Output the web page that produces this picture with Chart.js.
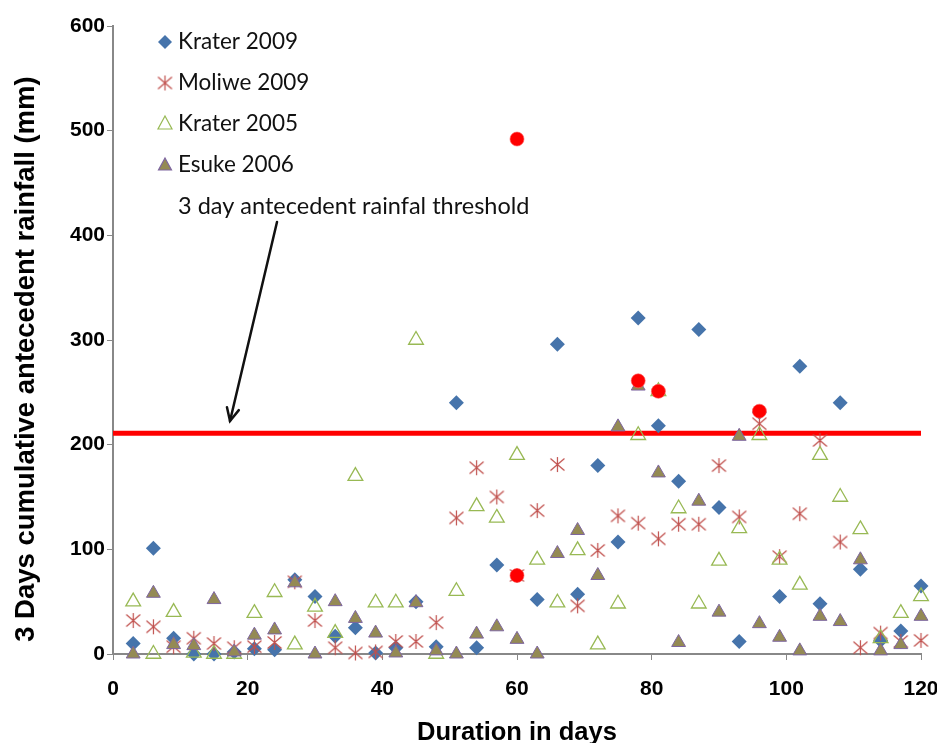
<!DOCTYPE html>
<html>
<head>
<meta charset="utf-8">
<script src="https://cdn.jsdelivr.net/npm/chart.js@4.4.1/dist/chart.umd.min.js"></script>
<style>
  html, body { margin: 0; padding: 0; background: #fff; overflow: hidden; }
</style>
</head>
<body>
<canvas id="rainChart" width="937" height="743"></canvas>
<script>
// duration in days (x) for every series
const days = [3, 6, 9, 12, 15, 18, 21, 24, 27, 30, 33, 36, 39, 42, 45, 48, 51, 54, 57, 60,
              63, 66, 69, 72, 75, 78, 81, 84, 87, 90, 93, 96, 99, 102, 105, 108, 111, 114, 117, 120];

// 3 day cumulative antecedent rainfall (mm)
const krater2009 = [10, 101, 15, 0, 0, 2, 5, 4, 71, 55, 17, 25, 1, 6, 50, 7, 240, 6, 85, null,
                    52, 296, 57, 180, 107, 321, 218, 165, 310, 140, 12, 231, 55, 275, 48, 240, 81, 13, 22, 65];
const moliwe2009 = [32, 26, 7, 15, 10, 6, 7, 11, 69, 32, 6, 1, 2, 12, 12, 30, 130, 178, 150, 75,
                    137, 181, 46, 99, 132, 125, 110, 124, 124, 180, 131, 220, 93, 134, 204, 107, 6, 20, 12, 13];
const krater2005 = [50, 0, 40, 1, 0, 0, 39, 59, 9, 45, 20, 170, 49, 49, 300, 0, 60, 141, 130, 190,
                    90, 49, 99, 9, 48, 209, 251, 139, 48, 89, 120, 209, 90, 66, 190, 150, 119, 15, 39, 55];
const esuke2006 = [0, 58, 9, 8, 52, 2, 18, 23, 68, 0, 50, 34, 20, 1, 49, 3, 0, 19, 26, 14,
                   0, 96, 118, 75, 217, 256, 173, 11, 146, 40, 208, 29, 16, 3, 36, 31, 90, 3, 9, 36];

// highlighted events (red dots)
const eventDays = [60, 78, 81, 96, 60];
const eventRain = [492, 261, 251, 232, 75];

// threshold line
const thresholdDays = [0, 120];
const thresholdValue = 211;

const seriesNames = ["Krater 2009", "Moliwe 2009", "Krater 2005", "Esuke 2006"];
const annotationText = "3 day antecedent rainfal threshold";

const blue = "#4674AB";
const starRed = "#C0504D";
const green = "#98B954";
const olive = "#948A54";
const purple = "#7E66A0";

function pts(xs, ys) {
    return xs.map((x, i) => ({ x: x, y: ys[i] }));
}

function makeStar(size) {
    const c = document.createElement("canvas");
    c.width = size; c.height = size;
    const g = c.getContext("2d");
    const m = size / 2, a = size / 2 - 1.5;
    g.strokeStyle = starRed;
    g.lineWidth = 1.2;
    g.beginPath();
    g.moveTo(m - a, m - a * 0.85); g.lineTo(m + a, m + a * 0.85);
    g.moveTo(m + a, m - a * 0.85); g.lineTo(m - a, m + a * 0.85);
    g.moveTo(m, m - a - 0.5); g.lineTo(m, m + a + 0.5);
    g.stroke();
    return c;
}
const starImg = makeStar(17);

// legend + annotation drawn inside the plot area
const overlayPlugin = {
    id: "overlay",
    afterDraw(chart) {
        const ctx = chart.ctx;
        const area = chart.chartArea;
        const mx = area.left + 52, tx = area.left + 65;
        const rows = [area.top + 16, area.top + 57, area.top + 98, area.top + 139];
        ctx.save();
        ctx.font = "22.5px Lato";
        ctx.fillStyle = "#111";
        ctx.textBaseline = "middle";
        rows.forEach((y, i) => {
            ctx.fillText(seriesNames[i], tx, y);
        });
        // markers
        ctx.fillStyle = blue;
        ctx.beginPath();
        ctx.moveTo(mx, rows[0] - 7); ctx.lineTo(mx + 7, rows[0]);
        ctx.lineTo(mx, rows[0] + 7); ctx.lineTo(mx - 7, rows[0]);
        ctx.closePath(); ctx.fill();
        ctx.drawImage(starImg, mx - 8.5, rows[1] - 8.5);
        ctx.strokeStyle = green; ctx.lineWidth = 1.2;
        ctx.beginPath();
        ctx.moveTo(mx, rows[2] - 8); ctx.lineTo(mx + 7, rows[2] + 5);
        ctx.lineTo(mx - 7, rows[2] + 5); ctx.closePath(); ctx.stroke();
        ctx.fillStyle = olive; ctx.strokeStyle = purple;
        ctx.beginPath();
        ctx.moveTo(mx, rows[3] - 7); ctx.lineTo(mx + 6.5, rows[3] + 5);
        ctx.lineTo(mx - 6.5, rows[3] + 5); ctx.closePath(); ctx.fill(); ctx.stroke();

        // threshold annotation
        ctx.font = "23.5px Lato";
        ctx.fillStyle = "#111";
        ctx.fillText(annotationText, tx, area.top + 180);
        const x0 = area.left + 164, y0 = area.top + 196;
        const x1 = area.left + 117, y1 = area.top + 395;
        ctx.strokeStyle = "#111"; ctx.lineWidth = 2.5; ctx.lineCap = "round";
        ctx.beginPath(); ctx.moveTo(x0, y0); ctx.lineTo(x1, y1); ctx.stroke();
        const ang = Math.atan2(y1 - y0, x1 - x0);
        ctx.beginPath();
        ctx.moveTo(x1 - 14 * Math.cos(ang - 0.45), y1 - 14 * Math.sin(ang - 0.45));
        ctx.lineTo(x1, y1);
        ctx.lineTo(x1 - 14 * Math.cos(ang + 0.45), y1 - 14 * Math.sin(ang + 0.45));
        ctx.stroke();
        ctx.restore();
    }
};

const ctx = document.getElementById("rainChart").getContext("2d");
new Chart(ctx, {
    type: "scatter",
    data: {
        datasets: [
            {
                label: "threshold",
                type: "line",
                data: thresholdDays.map(d => ({ x: d, y: thresholdValue })),
                borderColor: "#FF0000",
                borderWidth: 5,
                pointRadius: 0,
                order: 6
            },
            {
                label: seriesNames[0],
                data: pts(days, krater2009),
                pointStyle: "rectRot",
                pointRadius: 7.5,
                backgroundColor: blue,
                borderColor: blue,
                borderWidth: 0,
                clip: false,
                order: 5
            },
            {
                label: seriesNames[1],
                data: pts(days, moliwe2009),
                pointStyle: starImg,
                pointRadius: 8,
                clip: false,
                order: 4
            },
            {
                label: seriesNames[2],
                data: pts(days, krater2005),
                pointStyle: "triangle",
                pointRadius: 8.5,
                backgroundColor: "rgba(255,255,255,0)",
                borderColor: green,
                borderWidth: 1.3,
                clip: false,
                order: 3
            },
            {
                label: seriesNames[3],
                data: pts(days, esuke2006),
                pointStyle: "triangle",
                pointRadius: 8,
                backgroundColor: olive,
                borderColor: purple,
                borderWidth: 1,
                clip: false,
                order: 2
            },
            {
                label: "events",
                data: pts(eventDays, eventRain),
                pointStyle: "circle",
                pointRadius: 7,
                backgroundColor: "#FF0000",
                borderColor: "rgba(255,90,90,0.6)",
                borderWidth: 1,
                clip: false,
                order: 1
            }
        ]
    },
    options: {
        responsive: false,
        animation: false,
        devicePixelRatio: 1,
        layout: { padding: { top: 26, right: 16, left: 0, bottom: 0 } },
        plugins: {
            legend: { display: false },
            tooltip: { enabled: false }
        },
        scales: {
            x: {
                type: "linear",
                min: 0,
                max: 120,
                afterFit: s => { s.height = 89; s.paddingRight = 0; s.paddingLeft = 0; },
                ticks: {
                    stepSize: 20,
                    color: "#000",
                    padding: 17,
                    font: { family: "Liberation Sans", size: 21, weight: "bold" }
                },
                grid: { drawOnChartArea: false, drawTicks: true, tickLength: 6, color: "#888" },
                border: { color: "#888", width: 2 },
                title: {
                    display: true,
                    text: "Duration in days",
                    color: "#000",
                    padding: { top: 0, bottom: -5 },
                    font: { family: "Liberation Sans", size: 25.5, weight: "bold" }
                }
            },
            y: {
                min: 0,
                max: 600,
                afterFit: s => { s.width = 113; },
                ticks: {
                    stepSize: 100,
                    color: "#000",
                    padding: 2,
                    font: { family: "Liberation Sans", size: 21, weight: "bold" }
                },
                grid: { drawOnChartArea: false, drawTicks: true, tickLength: 6, color: "#888" },
                border: { color: "#888", width: 2 },
                title: {
                    display: true,
                    text: "3 Days cumulative antecedent rainfall (mm)     ",
                    color: "#000",
                    padding: { top: 10, bottom: 0 },
                    font: { family: "Liberation Sans", size: 27.5, weight: "bold" }
                }
            }
        }
    },
    plugins: [overlayPlugin]
});
</script>
</body>
</html>
